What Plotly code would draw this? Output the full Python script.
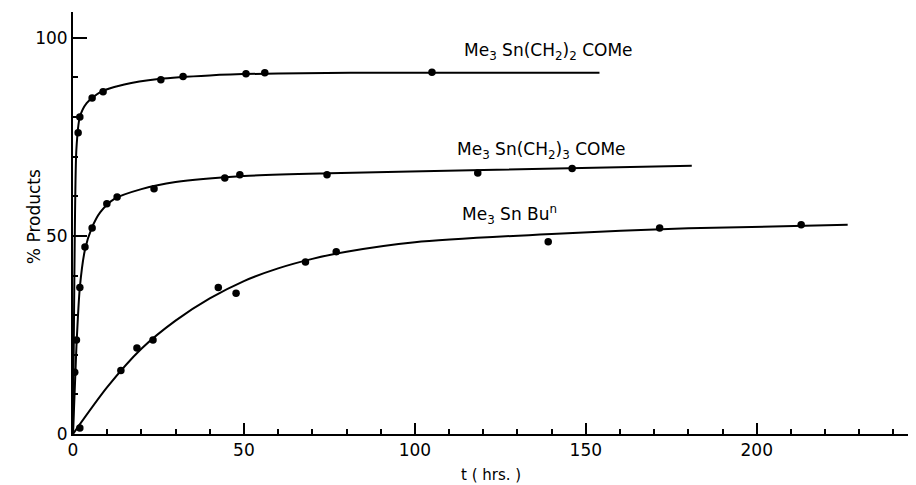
import plotly.graph_objects as go

# ---- data ----
# Me3Sn(CH2)2COMe
s1_t = [1.5, 2, 5.6, 8.8, 25.7, 32.2, 50.6, 56.1, 105]
s1_y = [76, 80, 84.8, 86.4, 89.4, 90.2, 90.9, 91.2, 91.3]
c1_t = [0, 0.4, 1.0, 2.0, 4.0, 8.0, 15, 25, 40, 60, 100, 154]
c1_y = [0, 40, 72, 80, 83.5, 86.3, 88.2, 89.6, 90.5, 91.0, 91.2, 91.2]

# Me3Sn(CH2)3COMe
s2_t = [0.5, 1.0, 2.0, 3.5, 5.6, 9.9, 12.9, 23.7, 44.4, 48.8, 74.3, 118.4, 146]
s2_y = [15.6, 23.7, 37, 47.2, 52, 58.1, 59.8, 61.9, 64.6, 65.4, 65.4, 65.9, 67]
c2_t = [0, 1.0, 2.0, 3.5, 5.5, 8, 12, 20, 30, 50, 75, 120, 181]
c2_y = [0, 22, 37, 46.5, 52, 56, 59.3, 61.8, 63.6, 65.1, 65.8, 66.6, 67.7]

# Me3SnBu^n
s3_t = [2, 14, 18.7, 23.4, 42.5, 47.7, 68, 77, 139, 171.6, 213]
s3_y = [1.5, 16, 21.7, 23.7, 37, 35.5, 43.4, 46, 48.5, 52, 52.8]
c3_t = [0, 10, 20, 30, 40, 50, 60, 70, 80, 100, 140, 180, 226.6]
c3_y = [0, 11.8, 21.5, 28.6, 34.2, 38.6, 41.8, 44.2, 46, 48.4, 50.5, 51.9, 52.8]

labels = ["Me<sub>3</sub> Sn(CH<sub>2</sub>)<sub>2</sub> COMe",
          "Me<sub>3</sub> Sn(CH<sub>2</sub>)<sub>3</sub> COMe",
          "Me<sub>3</sub> Sn Bu<sup>n</sup>"]
label_t = [113.7, 111.7, 113.2]
label_y = [96.6, 71.6, 55.4]

x_ticks = [0, 50, 100, 150, 200]
y_ticks = [0, 50, 100]

FONT = "DejaVu Sans"
fig = go.Figure()
for ct, cy, st, sy in [(c1_t, c1_y, s1_t, s1_y), (c2_t, c2_y, s2_t, s2_y), (c3_t, c3_y, s3_t, s3_y)]:
    fig.add_trace(go.Scatter(x=ct, y=cy, mode="lines", line=dict(color="black", width=2, shape="spline", smoothing=0.7),
                             showlegend=False, hoverinfo="skip"))
    fig.add_trace(go.Scatter(x=st, y=sy, mode="markers", marker=dict(color="black", size=7.5),
                             showlegend=False))

for lab, lt, ly in zip(labels, label_t, label_y):
    fig.add_annotation(x=lt, y=ly, text=lab, showarrow=False, xanchor="left", yanchor="middle",
                       font=dict(family=FONT, size=17, color="black"))

fig.add_annotation(x=-0.0606, y=0.514, xref="paper", yref="paper", text="% Products", textangle=-90,
                   showarrow=False, font=dict(family=FONT, size=17, color="black"))
fig.add_annotation(x=0.497, y=-0.096, xref="paper", yref="paper", text="t ( hrs. )", showarrow=False,
                   yanchor="middle", font=dict(family=FONT, size=15, color="black"))

fig.update_xaxes(range=[0, 246], showline=True, linecolor="black", linewidth=2, showgrid=False, zeroline=False,
                 tickmode="array", tickvals=x_ticks, ticktext=[str(v) for v in x_ticks],
                 ticks="inside", ticklen=11, tickwidth=2, tickcolor="black",
                 minor=dict(dtick=10, tick0=0, ticks="inside", ticklen=5, tickwidth=2, tickcolor="black", showgrid=False),
                 tickfont=dict(family=FONT, size=17, color="black"))
fig.update_yaxes(range=[0, 106.5], showline=True, linecolor="black", linewidth=2, showgrid=False, zeroline=False,
                 tickmode="array", tickvals=y_ticks, ticktext=[str(v) for v in y_ticks],
                 ticks="inside", ticklen=14, tickwidth=2, tickcolor="black",
                 minor=dict(dtick=10, tick0=0, ticks="inside", ticklen=5, tickwidth=2, tickcolor="black", showgrid=False),
                 tickfont=dict(family=FONT, size=17, color="black"))

fig.update_layout(width=908, height=477, margin=dict(l=65, r=2, t=4, b=51),
                  plot_bgcolor="white", paper_bgcolor="white")
fig.write_html("out.html")
